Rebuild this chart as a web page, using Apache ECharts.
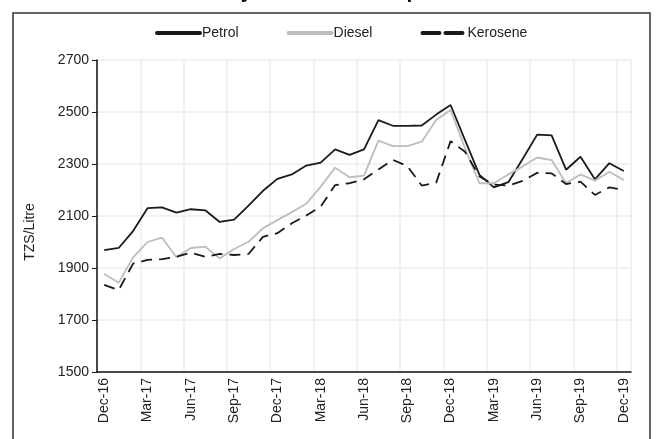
<!DOCTYPE html>
<html>
<head>
<meta charset="utf-8">
<script src="https://cdn.jsdelivr.net/npm/echarts@6/dist/echarts.min.js"></script>
<style>
    html, body { margin: 0; padding: 0; background: #fff; }
    #chart { width: 660px; height: 439px; }
</style>
</head>
<body>
<div id="chart"></div>
<script>
// monthly pump prices, Dec-16 .. Dec-19 (TZS/Litre)
const months = [
    'Dec-16', 'Jan-17', 'Feb-17', 'Mar-17', 'Apr-17', 'May-17', 'Jun-17', 'Jul-17', 'Aug-17',
    'Sep-17', 'Oct-17', 'Nov-17', 'Dec-17', 'Jan-18', 'Feb-18', 'Mar-18', 'Apr-18', 'May-18',
    'Jun-18', 'Jul-18', 'Aug-18', 'Sep-18', 'Oct-18', 'Nov-18', 'Dec-18', 'Jan-19', 'Feb-19',
    'Mar-19', 'Apr-19', 'May-19', 'Jun-19', 'Jul-19', 'Aug-19', 'Sep-19', 'Oct-19', 'Nov-19', 'Dec-19'
];
const petrol = [
    1969, 1977, 2042, 2130, 2133, 2113, 2126, 2122, 2077, 2086, 2140, 2197, 2243,
    2260, 2294, 2305, 2356, 2335, 2356, 2469, 2447, 2447, 2448, 2490, 2527,
    2392, 2258, 2210, 2230, 2320, 2413, 2410, 2278, 2328, 2241, 2303, 2273
];
const diesel = [
    1877, 1843, 1941, 2000, 2017, 1941, 1977, 1982, 1937, 1973, 2001, 2053, 2084,
    2115, 2147, 2213, 2286, 2249, 2255, 2390, 2369, 2369, 2386, 2469, 2508,
    2360, 2226, 2226, 2260, 2291, 2325, 2315, 2227, 2260, 2236, 2270, 2238
];
const kerosene = [
    1835, 1815, 1917, 1931, 1934, 1943, 1959, 1943, 1954, 1950, 1954, 2020, 2034,
    2072, 2102, 2136, 2219, 2226, 2241, 2279, 2316, 2292, 2217, 2228, 2388,
    2347, 2252, 2221, 2217, 2235, 2266, 2264, 2223, 2232, 2181, 2210, 2200
];

const font = 'Liberation Sans, Arial, sans-serif';
const chart = echarts.init(document.getElementById('chart'));

const option = {
    animation: false,
    backgroundColor: '#fff',
    // title is cropped off at the top in the original, only descenders show
    title: {
        text: 'Monthly Indicative Pump Prices',
        left: 'center',
        top: -23,
        textStyle: { fontFamily: font, fontSize: 21, fontWeight: 'bold', color: '#111' }
    },
    graphic: [{
        type: 'rect',
        shape: { x: 13, y: 13, width: 637, height: 440 },
        style: { fill: 'none', stroke: '#333', lineWidth: 1.5 },
        silent: true
    }],
    legend: {
        top: 21,
        left: 150,
        itemGap: 48,
        itemWidth: 43,
        itemHeight: 10,
        textStyle: { fontFamily: font, fontSize: 14, color: '#222', padding: [0, 0, 0, -3] },
        itemStyle: { opacity: 0, borderWidth: 0 },
        lineStyle: { width: 4, cap: 'round' },
        data: [
            { name: 'Petrol' },
            { name: 'Diesel' },
            { name: 'Kerosene', lineStyle: { type: [17, 6], cap: 'round' } }
        ]
    },
    grid: { left: 97, right: 29, top: 60, bottom: 67 },
    xAxis: {
        type: 'category',
        data: months,
        boundaryGap: true,
        axisLine: { lineStyle: { color: '#111', width: 1.5 } },
        axisTick: { interval: 2, length: 5, lineStyle: { color: '#111' } },
        axisLabel: {
            interval: 2,
            rotate: 90,
            margin: 6,
            fontFamily: font,
            fontSize: 14,
            color: '#222'
        },
        splitLine: { show: true, interval: 2, lineStyle: { color: '#ececec', width: 1.5 } }
    },
    yAxis: {
        type: 'value',
        min: 1500,
        max: 2700,
        interval: 200,
        name: 'TZS/Litre',
        nameLocation: 'middle',
        nameGap: 60,
        nameTextStyle: { fontFamily: font, fontSize: 14, color: '#222', padding: [0, 32, 0, 0] },
        axisLine: { show: true, lineStyle: { color: '#111', width: 1.5 } },
        axisTick: { show: true, length: 5, lineStyle: { color: '#111' } },
        axisLabel: {
            fontFamily: font,
            fontSize: 14,
            color: '#222',
            margin: 8,
            formatter: v => String(v)
        },
        splitLine: { lineStyle: { color: '#ececec', width: 1.5 } }
    },
    series: [
        {
            name: 'Petrol',
            type: 'line',
            data: petrol,
            symbol: 'none',
            color: '#1a1a1a',
            lineStyle: { color: '#1a1a1a', width: 1.8 }
        },
        {
            name: 'Diesel',
            type: 'line',
            data: diesel,
            symbol: 'none',
            color: '#bdbdbd',
            lineStyle: { color: '#bdbdbd', width: 1.8 }
        },
        {
            name: 'Kerosene',
            type: 'line',
            data: kerosene,
            symbol: 'none',
            color: '#1a1a1a',
            lineStyle: { color: '#1a1a1a', width: 1.8, type: [11, 7] }
        }
    ]
};
chart.setOption(option);
</script>
</body>
</html>
